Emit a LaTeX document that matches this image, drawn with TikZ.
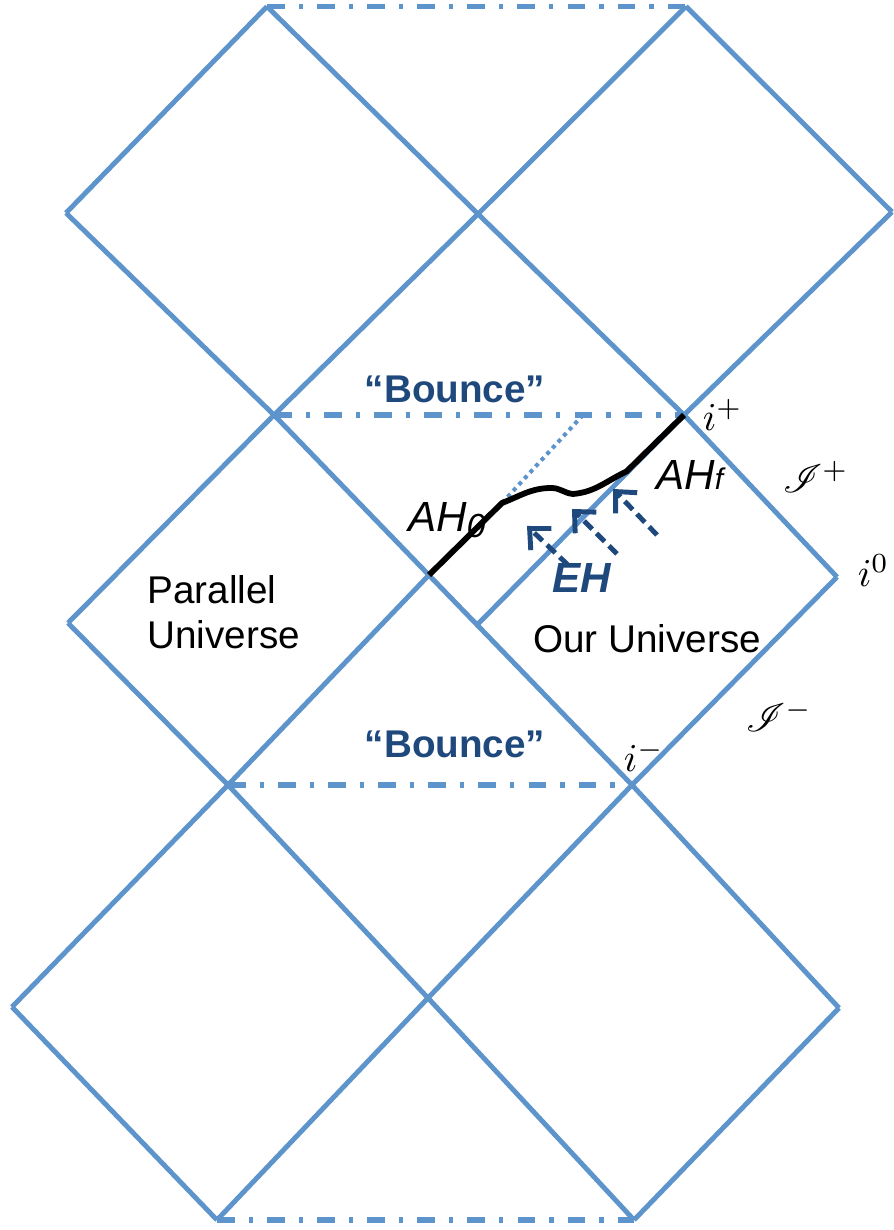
\documentclass[tikz,border=0pt]{standalone}
\usepackage{amsmath,amssymb}
\usepackage{mathrsfs}
\usepackage{fontspec}
\setsansfont{Liberation Sans}
\usepackage{tikz}
\usetikzlibrary{arrows.meta}

\definecolor{penrose}{RGB}{94,148,204}
\definecolor{bouncetxt}{RGB}{31,73,125}

\begin{document}
\begin{tikzpicture}[
		edge/.style={penrose, line width=2.8pt, line join=round},
		bounce/.style={penrose, line width=3pt, dash pattern=on 10pt off 8pt on 2.5pt off 8pt},
		ray/.style={bouncetxt, line width=2.8pt, dash pattern=on 6.5pt off 3.5pt, -{Straight Barb[length=9pt,width=17pt]}},
		txt/.style={font=\sffamily\fontsize{22}{25.5}\selectfont, inner sep=0pt},
		ahlbl/.style={font=\sffamily\itshape\fontsize{24}{28}\selectfont, inner sep=0pt, anchor=base west},
		bouncelbl/.style={font=\sffamily\bfseries\fontsize{22}{26}\selectfont, text=bouncetxt, inner sep=0pt, anchor=base},
		ptlbl/.style={scale=2.25, inner sep=0pt, anchor=base west}]
		\useasboundingbox (0,0) rectangle (17.88,24.6);
		% Vertices
		\coordinate (T1) at (5.34,24.47);
		\coordinate (T2) at (13.72,24.47);
		\coordinate (A1) at (1.32,20.34);
		\coordinate (A2) at (9.56,20.32);
		\coordinate (A3) at (17.84,20.36);
		\coordinate (B1) at (5.48,16.30);
		\coordinate (B2) at (13.68,16.30);
		\coordinate (P) at (11.66,16.30);
		\coordinate (C0) at (1.36,12.14);
		\coordinate (C1) at (8.58,13.10);
		\coordinate (C2) at (9.54,12.10);
		\coordinate (C3) at (16.74,13.06);
		\coordinate (K) at (10.04,14.54);
		\coordinate (D1) at (4.56,8.90);
		\coordinate (D2) at (12.64,8.90);
		\coordinate (E0) at (0.24,4.46);
		\coordinate (E1) at (8.56,4.64);
		\coordinate (E2) at (16.78,4.44);
		\coordinate (F1) at (4.34,0.20);
		\coordinate (F2) at (12.68,0.20);
		
		% Bounce lines
		\draw[bounce] (T1) -- (T2);
		\draw[bounce] (B1) -- (B2);
		\draw[bounce] (D1) -- (D2);
		\draw[bounce] (F1) -- (F2);
		
		% Null lines
		\draw[edge] (T1) -- (A1);
		\draw[edge] (A1) -- (B1) -- (D2) -- (E2);
		\draw[edge] (T1) -- (A2) -- (B2) -- (C3);
		\draw[edge] (T2) -- (A3);
		\draw[edge] (T2) -- (A2) -- (B1) -- (C0);
		\draw[edge] (A3) -- (B2) -- (C2);
		\draw[edge] (C0) -- (D1) -- (E1) -- (F2);
		\draw[edge] (C1) -- (D1) -- (E0);
		\draw[edge] (C3) -- (D2) -- (E1) -- (F1);
		\draw[edge] (E0) -- (F1);
		\draw[edge] (E2) -- (F2);
		
		% Apparent horizon
		\draw[penrose, line width=2.3pt, dash pattern=on 2.3pt off 2.4pt] (K) -- (P);
		\draw[black, line width=3.3pt, line join=round] (C1) -- (K)
			to[out=21,in=180] (11.03,14.84) to[out=0,in=175] (11.46,14.72)
			to[out=5,in=205] (12.53,15.17) -- (B2);
		
		% Labels
		\node[bouncelbl] (bounceUp) at (9.10,16.54) {“Bounce”};
		\node[bouncelbl] (bounceDown) at (9.10,9.44) {“Bounce”};
		\node[txt, align=left, anchor=north west] (parallel) at (2.94,13.10) {Parallel\\Universe};
		\node[txt, anchor=base west] (ours) at (10.66,11.54) {Our Universe};
		\node[ahlbl] (ah0) at (8.16,13.96) {AH\raisebox{-3pt}{\fontsize{19}{19}\selectfont 0}};
		\node[ahlbl] (ahf) at (13.12,14.80) {AH{\fontsize{17}{17}\selectfont f}};
		\node[ahlbl, font=\sffamily\bfseries\itshape\fontsize{24}{28}\selectfont, text=bouncetxt] (eh) at (11.04,12.74) {EH};
		
		% Event horizon arrows
		\coordinate (ray1s) at (11.36,13.30);
		\coordinate (ray1e) at (10.54,14.08);
		\coordinate (ray2s) at (12.34,13.52);
		\coordinate (ray2e) at (11.44,14.42);
		\coordinate (ray3s) at (13.14,13.90);
		\coordinate (ray3e) at (12.26,14.82);
		\draw[ray] (ray1s) -- (ray1e);
		\draw[ray] (ray2s) -- (ray2e);
		\draw[ray] (ray3s) -- (ray3e);
		
		% Infinities
		\node[ptlbl] (iplus) at (14.04,15.98) {$i^+$};
		\node[ptlbl] (izero) at (17.14,12.86) {$i^0$};
		\node[ptlbl] (iminus) at (12.46,9.16) {$i^-$};
		\node[ptlbl] (scriplus) at (15.64,14.74) {$\mathscr{I}^+$};
		\node[ptlbl] (scriminus) at (14.90,9.96) {$\mathscr{I}^-$};
\end{tikzpicture}
\end{document}
